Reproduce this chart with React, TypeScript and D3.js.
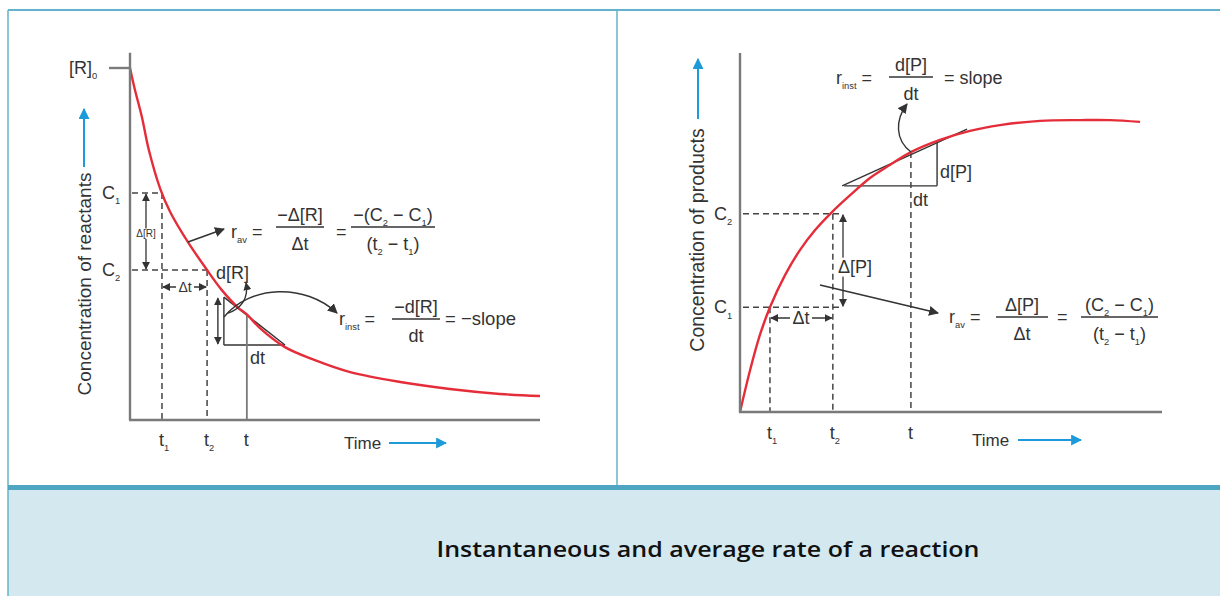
import { useEffect, useRef } from 'react'
import * as d3 from 'd3'

// reactant concentration vs time (left panel)
const reactTime = [0, 1.2, 2.9, 4.6, 7.4, 9.8, 14.1, 18.8, 22.4, 26.3, 28.5, 31.7, 37.8, 45.1, 53.7, 65.9, 78, 90.2, 100]
const reactConc = [100, 93.8, 86.1, 76.7, 65.6, 59.1, 50.6, 42.6, 36.9, 32, 30, 26.1, 20.7, 17, 13.6, 10.8, 8.8, 7.4, 6.8]
const reactTickTimes = [7.8, 18.8, 28.5] // t1, t2, t
const reactLevels = [64.5, 42.6] // C1, C2
const reactStart = 100 // [R]0
const reactTangent = [[22.9, 34.9], [37.8, 21.3]]

// product concentration vs time (right panel)
const prodTime = [0, 2.4, 4.7, 7.1, 10.7, 14.2, 17.8, 21.8, 26.1, 30.8, 35.5, 40.5, 47.4, 54.5, 61.6, 71.1, 80.6, 87.7, 94.8]
const prodConc = [0, 11.7, 21.4, 29.2, 38.2, 45.1, 50.7, 55.7, 60.4, 65.2, 68.8, 72.4, 75.8, 78.3, 79.9, 81.1, 81.3, 81.3, 80.8]
const prodTickTimes = [7.1, 22, 40.5] // t1, t2, t
const prodLevels = [29.2, 55.2] // C1, C2
const prodTangent = [[24.2, 63], [53.8, 78.8]]

const tickSubs = ['1', '2', '']

const TEXT = '#333'
const AXIS = '#7a7a7a'
const RED = '#e52d3a'
const BLUE = '#1f9ad8'
const DARK = '#333'
const FS = 18

type Sel = d3.Selection<any, unknown, null, undefined>

// text with subscripts: parts starting with '_' are subscripts
function rich(parent: Sel, x: number, y: number, parts: string[], size = FS, anchor = 'start') {
  const t = parent
    .append('text')
    .attr('x', x)
    .attr('y', y)
    .attr('text-anchor', anchor)
    .style('font-size', `${size}px`)
    .style('fill', TEXT)
  let shifted = false
  parts.forEach(p => {
    const isSub = p.startsWith('_')
    const ts = t.append('tspan').text(isSub ? p.slice(1) : p)
    if (isSub) {
      ts.attr('dy', size * 0.3).style('font-size', `${size * 0.52}px`)
      shifted = true
    } else if (shifted) {
      ts.attr('dy', -size * 0.3)
      shifted = false
    }
  })
  return t
}

function frac(parent: Sel, x1: number, x2: number, lineY: number, num: string[], den: string[], size = FS) {
  const cx = (x1 + x2) / 2
  parent.append('line').attr('x1', x1).attr('x2', x2).attr('y1', lineY).attr('y2', lineY)
    .attr('stroke', TEXT).attr('stroke-width', 1.4)
  rich(parent, cx, lineY - 6, num, size, 'middle')
  rich(parent, cx, lineY + 23, den, size, 'middle')
}

function line(parent: Sel, x1: number, y1: number, x2: number, y2: number, opts: any = {}) {
  const l = parent.append('line')
    .attr('x1', x1).attr('y1', y1).attr('x2', x2).attr('y2', y2)
    .attr('stroke', opts.color || DARK)
    .attr('stroke-width', opts.width || 1.5)
  if (opts.dash) l.attr('stroke-dasharray', '6,4')
  if (opts.end) l.attr('marker-end', `url(#${opts.end})`)
  if (opts.start) l.attr('marker-start', `url(#${opts.start})`)
  return l
}

function bgLabel(parent: Sel, cx: number, y: number, parts: string[], size: number, w: number) {
  parent.append('rect').attr('x', cx - w / 2).attr('y', y - size * 0.85).attr('width', w)
    .attr('height', size * 1.05).attr('fill', '#fff')
  rich(parent, cx, y, parts, size, 'middle')
}

export default function App() {
  const svgRef = useRef<SVGSVGElement>(null)

  useEffect(() => {
    if (!svgRef.current) return
    const width = 1220
    const height = 596
    d3.select(svgRef.current).selectAll('*').remove()

    const svg = d3.select(svgRef.current)
      .attr('width', width)
      .attr('height', height)
      .style('font-family', '"Liberation Sans", Arial, sans-serif')

    const defs = svg.append('defs')
    const mk = (id: string, color: string, size: number) =>
      defs.append('marker').attr('id', id).attr('viewBox', '0 0 10 10')
        .attr('refX', 9).attr('refY', 5).attr('markerWidth', size).attr('markerHeight', size)
        .attr('markerUnits', 'userSpaceOnUse')
        .attr('orient', 'auto-start-reverse')
        .append('path').attr('d', 'M0,0 L10,5 L0,10 z').attr('fill', color)
    mk('ah', DARK, 10)
    mk('ahs', DARK, 8)
    mk('ab', BLUE, 11)

    // frame
    svg.append('rect').attr('x', 0).attr('y', 0).attr('width', width).attr('height', height).attr('fill', '#fff')
    svg.append('rect').attr('x', 8).attr('y', 489).attr('width', width).attr('height', height - 489).attr('fill', '#d4e9ef')
    line(svg, 8, 10, width, 10, { color: '#62b3cb', width: 2 })
    line(svg, 8, 10, 8, height, { color: '#62b3cb', width: 1.5 })
    line(svg, 617, 10, 617, 486, { color: '#62b3cb', width: 1.5 })
    svg.append('rect').attr('x', 8).attr('y', 485).attr('width', width).attr('height', 5).attr('fill', '#4ea6c2')

    svg.append('text')
      .attr('x', 708).attr('y', 557)
      .attr('text-anchor', 'middle')
      .attr('textLength', 543).attr('lengthAdjust', 'spacingAndGlyphs')
      .style('font-family', '"Open Sans", sans-serif')
      .style('font-weight', 600).style('font-size', '21px').style('fill', '#111')
      .text('Instantaneous and average rate of a reaction')

    // ---------- left panel: reactants ----------
    const xL = d3.scaleLinear().domain([0, 100]).range([130, 540])
    const yL = d3.scaleLinear().domain([0, 100]).range([420, 68])
    const gL = svg.append('g')

    // tangent + triangle (under the curve)
    const [ta, tb] = reactTangent
    line(gL, xL(ta[0]), yL(ta[1]), xL(tb[0]), yL(tb[1]), { width: 1.4 })
    line(gL, xL(ta[0]), yL(ta[1]), xL(ta[0]), yL(tb[1]), { width: 1.4 })
    line(gL, xL(ta[0]), yL(tb[1]), xL(tb[0]), yL(tb[1]), { width: 1.4 })
    line(gL, xL(ta[0]) - 6, yL(ta[1]) + 1, xL(ta[0]) - 6, yL(tb[1]) - 1, { width: 1.4, start: 'ahs', end: 'ahs' })

    // dashed guides
    reactLevels.forEach((c, i) => {
      line(gL, xL(0) + 2, yL(c), xL(reactTickTimes[i]), yL(c), { dash: true, color: '#444' })
      line(gL, xL(reactTickTimes[i]), yL(c), xL(reactTickTimes[i]), yL(0), { dash: true, color: '#444' })
    })
    // vertical at t (solid)
    line(gL, xL(reactTickTimes[2]), yL(30), xL(reactTickTimes[2]), yL(0), { color: AXIS, width: 1.8 })

    // delta arrows
    line(gL, 146, yL(reactLevels[0]) + 1, 146, yL(reactLevels[1]) - 1, { start: 'ahs', end: 'ahs', width: 1.3 })
    bgLabel(gL, 146, 237, ['Δ[R]'], 10, 24)
    line(gL, xL(reactTickTimes[0]) + 1, 287, xL(reactTickTimes[1]) - 1, 287, { start: 'ahs', end: 'ahs', width: 1.3 })
    bgLabel(gL, 185, 292, ['Δt'], 14, 18)

    // curve
    gL.append('path')
      .datum(reactTime.map((t, i) => [t, reactConc[i]] as [number, number]))
      .attr('d', d3.line<[number, number]>().x(d => xL(d[0])).y(d => yL(d[1])).curve(d3.curveCatmullRom.alpha(0.5)))
      .attr('fill', 'none').attr('stroke', RED).attr('stroke-width', 2.4)

    // axes
    line(gL, xL(0), yL(104.3), xL(0), yL(0), { color: AXIS, width: 2.4 })
    line(gL, xL(0) - 1, yL(0), xL(100), yL(0), { color: AXIS, width: 2.4 })
    line(gL, xL(0) - 21, yL(reactStart), xL(0), yL(reactStart), { color: AXIS, width: 2.4 })

    rich(gL, 69, yL(reactStart) + 6, ['[R]', '_0'])
    rich(gL, 102, yL(reactLevels[0]) + 6, ['C', '_1'])
    rich(gL, 102, yL(reactLevels[1]) + 6, ['C', '_2'])
    reactTickTimes.forEach((t, i) => {
      rich(gL, xL(t) - 3, 446, tickSubs[i] ? ['t', '_' + tickSubs[i]] : ['t'])
    })
    rich(gL, 344, 449, ['Time'], 17)
    line(gL, 389, 443, 446, 443, { color: BLUE, width: 2, end: 'ab' })

    gL.append('text')
      .attr('transform', 'translate(91,284) rotate(-90)')
      .attr('text-anchor', 'middle')
      .style('font-size', '19px').style('fill', TEXT)
      .text('Concentration of reactants')
    line(gL, 84, 167, 84, 109, { color: BLUE, width: 2, end: 'ab' })

    // labels around tangent
    rich(gL, 216, 279, ['d[R]'])
    rich(gL, 250, 364, ['dt'])
    gL.append('path').attr('d', 'M228,313 C241,309 249,298 246,283')
      .attr('fill', 'none').attr('stroke', DARK).attr('stroke-width', 1.4).attr('marker-end', 'url(#ahs)')
    gL.append('path').attr('d', 'M224,317 C250,285 305,283 337,313')
      .attr('fill', 'none').attr('stroke', DARK).attr('stroke-width', 1.4).attr('marker-end', 'url(#ah)')

    // r_av formula
    line(gL, 188, 242, 224, 229, { end: 'ah', width: 1.5 })
    rich(gL, 231, 238, ['r', '_av', ' ='])
    frac(gL, 276, 324, 227, ['−Δ[R]'], ['Δt'])
    rich(gL, 336, 238, ['='])
    frac(gL, 351, 435, 227, ['−(C', '_2', ' − C', '_1', ')'], ['(t', '_2', ' − t', '_1', ')'])

    // r_inst formula
    rich(gL, 339, 325, ['r', '_inst', ' ='])
    frac(gL, 392, 440, 319, ['−d[R]'], ['dt'])
    rich(gL, 445, 325, ['= −slope'], 18.5)

    // ---------- right panel: products ----------
    const xR = d3.scaleLinear().domain([0, 100]).range([740, 1162])
    const yR = d3.scaleLinear().domain([0, 100]).range([412, 53])
    const gR = svg.append('g')

    // tangent + triangle
    const [pa, pb] = prodTangent
    const tanY = d3.scaleLinear().domain([pa[0], pb[0]]).range([pa[1], pb[1]])
    const vx = 46.7
    line(gR, xR(pa[0]), yR(pa[1]), xR(pb[0]), yR(pb[1]), { width: 1.4 })
    line(gR, xR(pa[0]) + 2, yR(pa[1]), xR(vx), yR(pa[1]), { width: 1.4 })
    line(gR, xR(vx), yR(pa[1]), xR(vx), yR(tanY(vx)), { width: 1.4 })

    // dashed guides
    const arrX = 843
    prodLevels.forEach((c, i) => {
      line(gR, xR(0) + 3, yR(c), arrX, yR(c), { dash: true, color: '#444' })
      line(gR, xR(prodTickTimes[i]), yR(c), xR(prodTickTimes[i]), yR(0), { dash: true, color: '#444' })
    })
    line(gR, xR(prodTickTimes[2]), yR(72.4), xR(prodTickTimes[2]), yR(0), { dash: true, color: '#444' })

    line(gR, arrX, yR(prodLevels[1]) + 1, arrX, yR(prodLevels[0]) - 1, { start: 'ahs', end: 'ahs', width: 1.3 })
    bgLabel(gR, 855, 273, ['Δ[P]'], FS, 38)
    line(gR, xR(prodTickTimes[0]) + 1, 318, xR(prodTickTimes[1]) - 1, 318, { start: 'ahs', end: 'ahs', width: 1.3 })
    bgLabel(gR, 801, 324, ['Δt'], FS, 22)

    // curve
    gR.append('path')
      .datum(prodTime.map((t, i) => [t, prodConc[i]] as [number, number]))
      .attr('d', d3.line<[number, number]>().x(d => xR(d[0])).y(d => yR(d[1])).curve(d3.curveCatmullRom.alpha(0.5)))
      .attr('fill', 'none').attr('stroke', RED).attr('stroke-width', 2.4)

    // axes
    line(gR, xR(0), yR(100), xR(0), yR(0), { color: AXIS, width: 2.4 })
    line(gR, xR(0) - 1, yR(0), xR(100), yR(0), { color: AXIS, width: 2.4 })

    rich(gR, 714, yR(prodLevels[1]) + 6, ['C', '_2'])
    rich(gR, 714, yR(prodLevels[0]) + 6, ['C', '_1'])
    prodTickTimes.forEach((t, i) => {
      rich(gR, xR(t) - 3, 439, tickSubs[i] ? ['t', '_' + tickSubs[i]] : ['t'])
    })
    rich(gR, 972, 446, ['Time'], 17)
    line(gR, 1018, 440, 1081, 440, { color: BLUE, width: 2, end: 'ab' })

    gR.append('text')
      .attr('transform', 'translate(704,240) rotate(-90)')
      .attr('text-anchor', 'middle')
      .style('font-size', '19.5px').style('fill', TEXT)
      .text('Concentration of products')
    line(gR, 698, 119, 698, 59, { color: BLUE, width: 2, end: 'ab' })

    rich(gR, 940, 178, ['d[P]'])
    rich(gR, 913, 206, ['dt'])
    gR.append('path').attr('d', 'M911,152 C895,140 895,120 907,104')
      .attr('fill', 'none').attr('stroke', DARK).attr('stroke-width', 1.4).attr('marker-end', 'url(#ah)')

    // r_inst formula
    rich(gR, 836, 84, ['r', '_inst', ' ='])
    frac(gR, 889, 933, 77, ['d[P]'], ['dt'])
    rich(gR, 944, 84, ['=  slope'])

    // r_av formula
    line(gR, 820, 285, 938, 313, { end: 'ah', width: 1.5 })
    rich(gR, 949, 323, ['r', '_av', ' ='])
    frac(gR, 996, 1048, 317, ['Δ[P]'], ['Δt'])
    rich(gR, 1057, 323, ['='])
    frac(gR, 1081, 1158, 317, ['(C', '_2', ' − C', '_1', ')'], ['(t', '_2', ' − t', '_1', ')'])
  }, [])

  return (
    <div style={{ position: 'absolute', left: 0, top: 0 }}>
      <svg ref={svgRef} style={{ display: 'block' }}></svg>
    </div>
  )
}
